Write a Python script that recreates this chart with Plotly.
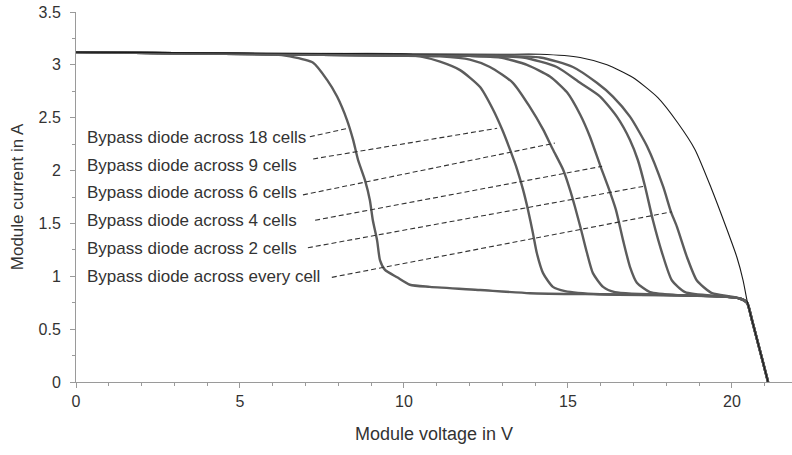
import plotly.graph_objects as go

# ---- data (module voltage in V, module current in A) ----
unshaded_v = [0, 6.83, 12.93, 14.15, 15.37, 16.19, 16.98, 17.74, 18.35, 18.87, 19.36, 19.85, 20.15, 20.34, 20.46, 20.61, 20.85, 21.10]
unshaded_i = [3.12, 3.11, 3.10, 3.10, 3.07, 3.00, 2.88, 2.69, 2.45, 2.20, 1.84, 1.44, 1.18, 0.96, 0.77, 0.585, 0.30, 0.0]

c18_v = [0, 3.0, 6.0, 6.52, 7.23, 7.65, 7.96, 8.26, 8.45, 8.60, 8.81, 8.96, 9.05, 9.18, 9.27, 9.42, 9.79, 10.18, 10.79, 12.32, 13.84, 15.98, 18.41, 19.63, 20.24, 20.46, 20.61, 20.85, 21.10]
c18_i = [3.12, 3.11, 3.10, 3.08, 3.02, 2.86, 2.70, 2.48, 2.29, 2.10, 1.91, 1.72, 1.53, 1.34, 1.15, 1.06, 0.99, 0.92, 0.90, 0.87, 0.84, 0.83, 0.82, 0.81, 0.79, 0.75, 0.585, 0.30, 0.0]

c9_v = [0, 3, 6, 9.88, 10.49, 11.10, 11.71, 12.32, 12.71, 12.99, 13.23, 13.45, 13.63, 13.78, 13.93, 14.05, 14.24, 14.54, 14.91, 15.98, 18.41, 19.63, 20.24, 20.46, 20.61, 20.85, 21.10]
c9_i = [3.12, 3.11, 3.10, 3.10, 3.08, 3.03, 2.95, 2.79, 2.58, 2.39, 2.20, 2.01, 1.82, 1.63, 1.41, 1.22, 1.03, 0.90, 0.86, 0.83, 0.82, 0.81, 0.79, 0.75, 0.585, 0.30, 0.0]

c6_v = [0, 3, 6, 9, 11.10, 12.01, 12.62, 13.32, 13.84, 14.24, 14.54, 14.85, 15.06, 15.21, 15.40, 15.58, 15.76, 16.07, 16.43, 18.41, 19.63, 20.24, 20.46, 20.61, 20.85, 21.10]
c6_i = [3.12, 3.11, 3.10, 3.09, 3.08, 3.05, 2.98, 2.83, 2.60, 2.39, 2.20, 2.01, 1.82, 1.66, 1.44, 1.22, 1.03, 0.90, 0.85, 0.82, 0.81, 0.79, 0.75, 0.585, 0.30, 0.0]

c4_v = [0, 3, 6, 9, 12, 12.93, 13.75, 14.45, 14.97, 15.37, 15.67, 15.98, 16.22, 16.46, 16.68, 16.89, 17.10, 17.50, 18.41, 19.63, 20.24, 20.46, 20.61, 20.85, 21.10]
c4_i = [3.12, 3.11, 3.10, 3.09, 3.085, 3.07, 3.00, 2.89, 2.74, 2.53, 2.32, 2.05, 1.85, 1.63, 1.34, 1.09, 0.94, 0.85, 0.82, 0.81, 0.79, 0.75, 0.585, 0.30, 0.0]

c2_v = [0, 3, 6, 9, 12, 13.63, 14.66, 15.37, 15.98, 16.49, 16.89, 17.13, 17.35, 17.59, 17.87, 18.17, 18.57, 19.63, 20.24, 20.46, 20.61, 20.85, 21.10]
c2_i = [3.12, 3.11, 3.10, 3.09, 3.085, 3.07, 2.98, 2.83, 2.70, 2.51, 2.29, 2.10, 1.85, 1.53, 1.22, 0.96, 0.85, 0.81, 0.79, 0.75, 0.585, 0.30, 0.0]

c1_v = [0, 3, 6, 9, 12, 14.15, 15.15, 15.88, 16.37, 16.89, 17.41, 17.90, 18.14, 18.32, 18.63, 18.93, 19.39, 19.94, 20.24, 20.46, 20.61, 20.85, 21.10]
c1_i = [3.12, 3.11, 3.10, 3.09, 3.085, 3.07, 2.98, 2.83, 2.70, 2.51, 2.23, 1.85, 1.61, 1.47, 1.18, 0.96, 0.84, 0.81, 0.79, 0.75, 0.585, 0.30, 0.0]

label_texts = ["Bypass diode across 18 cells", "Bypass diode across 9 cells",
               "Bypass diode across 6 cells", "Bypass diode across 4 cells",
               "Bypass diode across 2 cells", "Bypass diode across every cell"]
label_i = [2.31, 2.045, 1.79, 1.53, 1.265, 1.00]
label_v = 0.27
# leader lines: start (V, I) near label, end (V, I) on the curve
leader_v0 = [7.13, 7.23, 6.92, 7.29, 7.07, 7.80]
leader_i0 = [2.32, 2.11, 1.77, 1.53, 1.27, 0.99]
leader_v1 = [8.29, 12.84, 14.60, 16.04, 17.29, 18.17]
leader_i1 = [2.40, 2.40, 2.26, 2.04, 1.85, 1.61]

x_ticks = [0, 5, 10, 15, 20]
y_ticks = [0, 0.5, 1, 1.5, 2, 2.5, 3, 3.5]

FONT = "Liberation Sans, Arial, sans-serif"
BOLD = "#5c5c5c"

fig = go.Figure()

for v, i in [(c18_v, c18_i), (c9_v, c9_i), (c6_v, c6_i), (c4_v, c4_i), (c2_v, c2_i), (c1_v, c1_i)]:
    fig.add_trace(go.Scatter(x=v, y=i, mode="lines", line=dict(color=BOLD, width=2.4, shape="spline", smoothing=0.6),
                             hoverinfo="skip", showlegend=False))

fig.add_trace(go.Scatter(x=unshaded_v, y=unshaded_i, mode="lines",
                         line=dict(color="#1a1a1a", width=1.1, shape="spline", smoothing=0.6),
                         hoverinfo="skip", showlegend=False))

for k in range(len(label_texts)):
    fig.add_trace(go.Scatter(x=[leader_v0[k], leader_v1[k]], y=[leader_i0[k], leader_i1[k]], mode="lines",
                             line=dict(color="#333333", width=1.1, dash="5px,3px"),
                             hoverinfo="skip", showlegend=False))
    fig.add_annotation(x=label_v, y=label_i[k], text=label_texts[k], showarrow=False,
                       xanchor="left", yanchor="middle", font=dict(family=FONT, size=17, color="#333333"))

axis_common = dict(showgrid=False, zeroline=False, showline=True, linecolor="#9a9a9a", linewidth=1,
                   ticks="outside", ticklen=5, tickcolor="#9a9a9a",
                   tickfont=dict(family=FONT, size=16, color="#333333"))

fig.update_layout(
    width=792, height=455,
    margin=dict(l=76, r=0, t=12, b=73),
    paper_bgcolor="white", plot_bgcolor="white",
    xaxis=dict(range=[0, 21.83], tickvals=x_ticks, ticktext=[str(t) for t in x_ticks],
               minor=dict(dtick=1, ticks="outside", ticklen=3, tickcolor="#9a9a9a"),
               title=dict(text="Module voltage in V", font=dict(family=FONT, size=18, color="#333333"), standoff=18),
               **axis_common),
    yaxis=dict(range=[0, 3.5], tickvals=y_ticks, ticktext=[f"{t:g}" for t in y_ticks],
               minor=dict(dtick=0.25, ticks="outside", ticklen=3, tickcolor="#9a9a9a"),
               ticklabelstandoff=6,
               title=dict(text="Module current in A", font=dict(family=FONT, size=17, color="#333333"), standoff=10),
               **axis_common),
)

fig.write_html("out.html")
